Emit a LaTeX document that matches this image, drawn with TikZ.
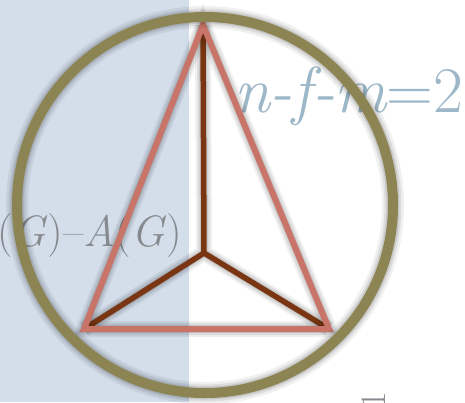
\documentclass[tikz,border=0pt]{standalone}
\usepackage{fontspec}
\definecolor{bgblue}{HTML}{D3DEEA}
\definecolor{ringolive}{HTML}{8C8452}
\definecolor{trisalmon}{HTML}{C97468}
\definecolor{starbrown}{HTML}{7A3612}
\definecolor{eqblue}{HTML}{9CB7C7}
\definecolor{txtgray}{HTML}{868A8E}
\tikzset{
  eqtext/.style={text=eqblue, inner sep=0pt, font=\fontsize{65}{70}\selectfont},
  lbltext/.style={text=txtgray, inner sep=0pt, font=\fontsize{44}{50}\selectfont},
  marktext/.style={text=txtgray, inner sep=0pt, font=\fontsize{36}{40}\selectfont},
  ringline/.style={draw=ringolive, line width=10pt},
  triline/.style={draw=trisalmon, line width=6pt, line join=miter},
  starline/.style={draw=starbrown, line width=5.5pt},
  shadowline/.style={draw=black, opacity=#1, shift={(2,2)}}
}
\begin{document}
\begin{tikzpicture}[x=1pt,y=-1pt]
\useasboundingbox (0,0) rectangle (465,402);
\clip (0,0) rectangle (465,402);
\fill[bgblue] (0,0) rectangle (189,402);

% texts (under the shapes)
\node[eqtext, anchor=base west] (eq) at (234,112) {\itshape n-f-m\upshape=2};
\node[lbltext, anchor=base east] (lbl) at (182,246) {(\textit{G})–\textit{A}(\textit{G})};
\node[marktext, rotate=90, anchor=center] (mk) at (374,400) {1};

% vertices
\coordinate (top) at (203,25);
\coordinate (bl) at (84,329);
\coordinate (br) at (329,329);
\coordinate (ctr) at (204,253);
\coordinate (oc) at (205,205);

% star with shadow
\foreach \w/\o in {16/0.06,12/0.08,8/0.10}{
  \draw[shadowline=\o, line width=\w pt] (ctr) -- (top) (ctr) -- (bl) (ctr) -- (br);
}
\draw[starline] (ctr) -- (top);
\draw[starline] (ctr) -- (bl);
\draw[starline] (ctr) -- (br);

% triangle with shadow
\foreach \w/\o in {16/0.06,12/0.08,8/0.10}{
  \draw[shadowline=\o, line width=\w pt, line join=miter] (top) -- (bl) -- (br) -- cycle;
}
\draw[triline] (top) -- (bl) -- (br) -- cycle;

% ring with shadow
\foreach \w/\o in {22/0.06,17/0.08,13/0.10}{
  \draw[shadowline=\o, line width=\w pt] (oc) circle[radius=188];
}
\draw[ringline] (oc) circle[radius=188];
\end{tikzpicture}
\end{document}
